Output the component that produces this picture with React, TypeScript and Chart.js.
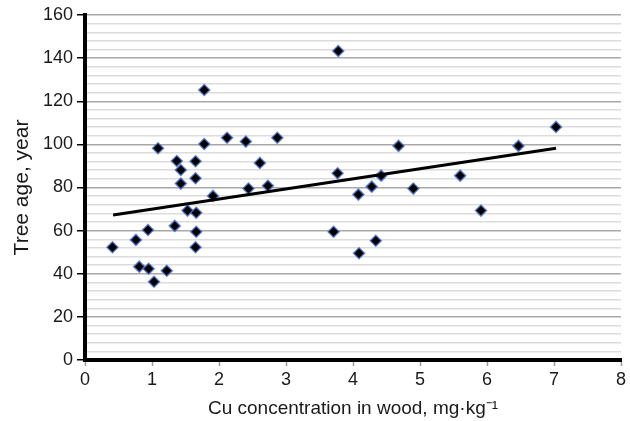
import { useEffect, useRef } from 'react';
import { Chart, registerables } from 'chart.js';

Chart.register(...registerables);

// Cu concentration in wood (mg·kg⁻¹)
const cuConcentration = [
  0.41, 0.76, 0.81, 0.94, 0.95, 1.03, 1.09, 1.22, 1.34, 1.37,
  1.43, 1.43, 1.53, 1.65, 1.65, 1.66, 1.66, 1.65, 1.78, 1.78,
  1.91, 2.12, 2.40, 2.44, 2.61, 2.73, 2.87, 3.78, 3.77, 3.71,
  4.08, 4.09, 4.28, 4.34, 4.42, 4.68, 4.90, 5.60, 5.91, 6.47,
  7.03,
];
// Tree age (years)
const treeAge = [
  52.3, 55.7, 43.3, 60.3, 42.3, 36.3, 98.2, 41.4, 62.2, 92.3,
  88.1, 81.8, 69.3, 92.2, 84.3, 68.3, 59.5, 52.3, 125.2, 100.2,
  76.1, 103.1, 101.3, 79.5, 91.4, 80.8, 103.1, 143.3, 86.6, 59.5,
  76.7, 49.5, 80.4, 55.3, 85.5, 99.3, 79.5, 85.5, 69.3, 99.3,
  108.1,
];
// Linear trend line endpoints
const trendX = [0.42, 7.03];
const trendY = [67.2, 98.2];

const xMin = 0;
const xMax = 8;
const xStep = 1;
const yMin = 0;
const yMax = 160;
const yMajorStep = 20;
const yMinorStep = 4;

const xTitle = 'Cu concentration in wood, mg·kg⁻¹';
const yTitle = 'Tree age, year';

export default function App() {
  const ref = useRef<HTMLCanvasElement | null>(null);

  useEffect(() => {
    if (!ref.current) return;
    const points = cuConcentration.map((x, i) => ({ x, y: treeAge[i] }));
    const trend = trendX.map((x, i) => ({ x, y: trendY[i] }));
    const font = 'Liberation Sans, Arial, sans-serif';

    const chart = new Chart(ref.current, {
      type: 'scatter',
      data: {
        datasets: [
          {
            data: trend,
            showLine: true,
            borderColor: '#000',
            borderWidth: 3,
            pointRadius: 0,
            fill: false,
          },
          {
            data: points,
            pointStyle: 'rectRot',
            pointRadius: 5.5,
            backgroundColor: '#000',
            borderColor: 'rgba(70,110,200,0.8)',
            borderWidth: 1.5,
          },
        ],
      },
      options: {
        responsive: false,
        animation: false,
        layout: { padding: { left: 0, top: 15, right: 9, bottom: 0 } },
        plugins: {
          legend: { display: false },
          tooltip: { enabled: false },
        },
        scales: {
          x: {
            type: 'linear',
            min: xMin,
            max: xMax,
            afterFit: (s: any) => {
              s.height = 61;
            },
            ticks: {
              stepSize: xStep,
              color: '#1a1a1a',
              font: { family: font, size: 18 },
              padding: 3,
            },
            grid: {
              drawOnChartArea: false,
              drawTicks: true,
              tickLength: 6,
              tickColor: '#999',
              tickWidth: 1.5,
            },
            border: { color: '#000', width: 4 },
            title: {
              display: true,
              text: xTitle,
              color: '#1a1a1a',
              font: { family: font, size: 19 },
              padding: { top: 0, bottom: 1 },
            },
          },
          y: {
            type: 'linear',
            min: yMin,
            max: yMax,
            afterFit: (s: any) => {
              s.width = 85;
            },
            ticks: {
              stepSize: yMinorStep,
              autoSkip: false,
              color: '#1a1a1a',
              font: { family: font, size: 18 },
              padding: 4,
              callback: (v: any) => (Number(v) % yMajorStep === 0 ? String(v) : ''),
            },
            grid: {
              color: (c: any) => (c.tick && c.tick.value % yMajorStep === 0 ? '#a8a8a8' : '#dcdcdc'),
              lineWidth: 1.5,
              tickLength: 8,
              tickColor: (c: any) => (c.tick && c.tick.value % yMajorStep === 0 ? '#000' : 'rgba(0,0,0,0)'),
              tickWidth: 1.5,
            },
            border: { color: '#000', width: 4 },
            title: {
              display: true,
              text: yTitle,
              color: '#1a1a1a',
              font: { family: font, size: 21 },
              padding: { top: 10, bottom: 0 },
            },
          },
        },
      },
    });
    return () => chart.destroy();
  }, []);

  return (
    <div style={{ position: 'fixed', left: 0, top: 0, width: 630, height: 421, background: '#fff' }}>
      <canvas ref={ref} width={630} height={421} />
    </div>
  );
}
